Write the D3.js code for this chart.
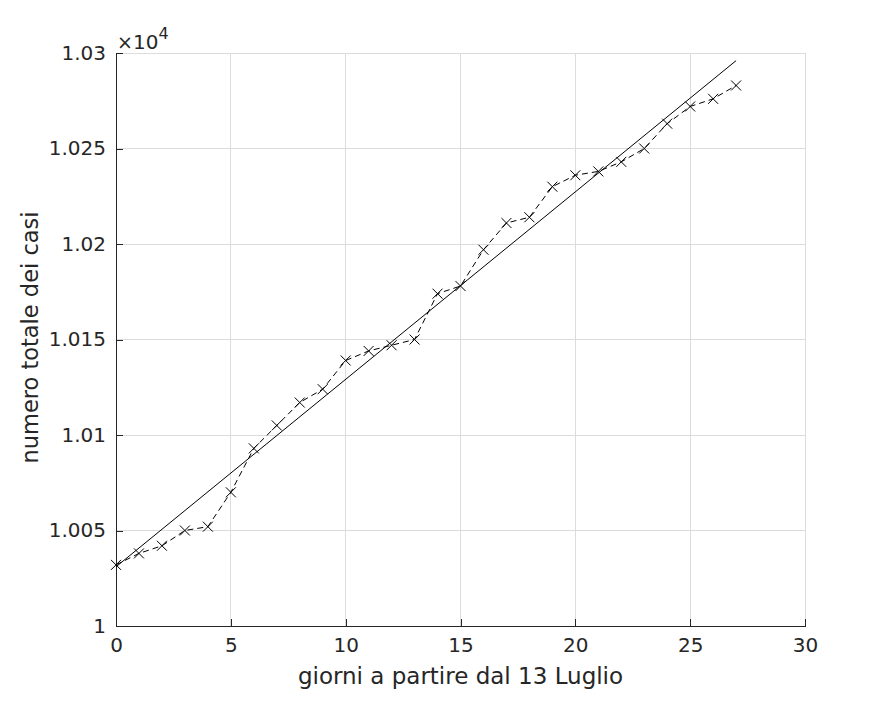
<!DOCTYPE html>
<html>
<head>
<meta charset="utf-8">
<script src="https://cdn.jsdelivr.net/npm/d3@7"></script>
<style>
  body { margin: 0; background: #fff; }
  text { font-family: "DejaVu Sans", sans-serif; fill: #262626; }
</style>
</head>
<body>
<svg id="chart" width="891" height="703"></svg>
<script>
// giorni a partire dal 13 Luglio
const days = d3.range(0, 28);
const cases = [
    10032, 10038, 10042, 10050, 10052, 10070, 10093, 10105, 10117, 10124,
    10139, 10144, 10147, 10150, 10174, 10178, 10197, 10211, 10214, 10230,
    10236, 10238, 10243, 10250, 10263, 10272, 10276, 10283
];
// retta di regressione (estremi)
const fitX = [0, 27];
const fitY = [10031, 10296];

const xTicks = [0, 5, 10, 15, 20, 25, 30];
const yTicks = [10000, 10050, 10100, 10150, 10200, 10250, 10300];
const yTickLabels = ["1", "1.005", "1.01", "1.015", "1.02", "1.025", "1.03"];

const margin = {left: 116, right: 86, top: 53, bottom: 77};
const width = 891 - margin.left - margin.right;
const height = 703 - margin.top - margin.bottom;

const svg = d3.select("#chart");

const x = d3.scaleLinear().domain([0, 30]).range([0, width]);
const y = d3.scaleLinear().domain([10000, 10300]).range([height, 0]);

const g = svg.append("g")
    .attr("transform", `translate(${margin.left},${margin.top})`);

// grid
g.append("g")
    .selectAll("line")
    .data(xTicks)
    .enter()
    .append("line")
    .attr("x1", d => x(d))
    .attr("x2", d => x(d))
    .attr("y1", 0)
    .attr("y2", height)
    .attr("stroke", "#dcdcdc")
    .attr("stroke-width", 1)
    .attr("shape-rendering", "crispEdges");

g.append("g")
    .selectAll("line")
    .data(yTicks)
    .enter()
    .append("line")
    .attr("x1", 0)
    .attr("x2", width)
    .attr("y1", d => y(d))
    .attr("y2", d => y(d))
    .attr("stroke", "#dcdcdc")
    .attr("stroke-width", 1)
    .attr("shape-rendering", "crispEdges");

// axes
const xAxis = g.append("g")
    .attr("transform", `translate(0,${height})`)
    .call(d3.axisBottom(x).tickValues(xTicks).tickSizeInner(-7).tickSizeOuter(0).tickPadding(12));

const yAxis = g.append("g")
    .call(d3.axisLeft(y).tickValues(yTicks).tickSizeInner(-7).tickSizeOuter(0).tickPadding(10)
        .tickFormat((d, i) => yTickLabels[i]));

[xAxis, yAxis].forEach(ax => {
    ax.select(".domain").attr("stroke", "#262626").attr("shape-rendering", "crispEdges");
    ax.selectAll(".tick line").attr("stroke", "#262626").attr("shape-rendering", "crispEdges");
    ax.selectAll(".tick text")
        .attr("font-family", "DejaVu Sans, sans-serif")
        .attr("font-size", 20)
        .attr("fill", "#262626");
});

// exponent label
const expo = g.append("text")
    .attr("x", 1)
    .attr("y", -4)
    .attr("font-size", 20);
expo.append("tspan").text("×").attr("font-size", 19);
expo.append("tspan").text("10");
expo.append("tspan").text("4").attr("font-size", 16).attr("dy", -10);

// fit line
const line = d3.line().x(d => x(d[0])).y(d => y(d[1]));

g.append("path")
    .datum(fitX.map((d, i) => [d, fitY[i]]))
    .attr("d", line)
    .attr("fill", "none")
    .attr("stroke", "#000")
    .attr("stroke-width", 1);

// data line (dashed)
g.append("path")
    .datum(days.map((d, i) => [d, cases[i]]))
    .attr("d", line)
    .attr("fill", "none")
    .attr("stroke", "#000")
    .attr("stroke-width", 1)
    .attr("stroke-dasharray", "6 4");

// x markers
const s = 5;
g.append("g")
    .selectAll("path")
    .data(days)
    .enter()
    .append("path")
    .attr("d", (d, i) => {
        const cx = x(d), cy = y(cases[i]);
        return `M${cx - s},${cy - s}L${cx + s},${cy + s}M${cx - s},${cy + s}L${cx + s},${cy - s}`;
    })
    .attr("stroke", "#000")
    .attr("stroke-width", 1)
    .attr("fill", "none");

// axis labels
svg.append("text")
    .attr("x", margin.left + width / 2)
    .attr("y", 684)
    .attr("text-anchor", "middle")
    .attr("font-size", 23)
    .text("giorni a partire dal 13 Luglio");

svg.append("text")
    .attr("transform", `translate(38,${margin.top + height / 2 - 2}) rotate(-90)`)
    .attr("text-anchor", "middle")
    .attr("font-size", 22.5)
    .text("numero totale dei casi");
</script>
</body>
</html>
